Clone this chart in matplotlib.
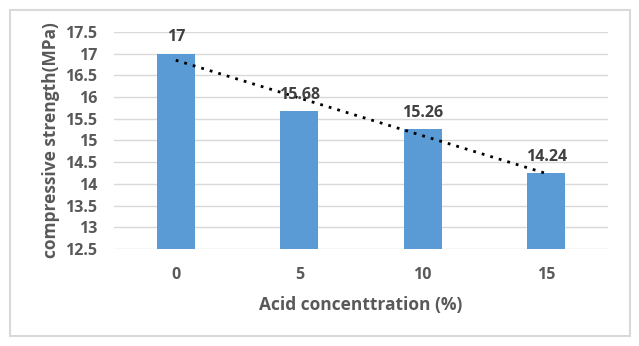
import matplotlib
matplotlib.use("Agg")
import matplotlib.pyplot as plt
import numpy as np
from matplotlib.patches import Rectangle

categories = ["0", "5", "10", "15"]
values = [17, 15.68, 15.26, 14.24]
value_labels = ["17", "15.68", "15.26", "14.24"]
yticks = [12.5, 13, 13.5, 14, 14.5, 15, 15.5, 16, 16.5, 17, 17.5]

plt.rcParams['font.family'] = ['Open Sans', 'DejaVu Sans']
W, H = 639, 346
fig = plt.figure(figsize=(W/100, H/100), dpi=100)
ax = fig.add_axes([114/W, 1-249/H, (608-114)/W, (249-32)/H])

x = np.arange(len(categories))
ax.bar(x, [v - 12.5 for v in values], bottom=12.5, width=0.31, color='#5b9bd5', zorder=3)

# linear trendline
coef = np.polyfit(x, values, 1)
ax.plot(x, np.polyval(coef, x), linestyle=(0, (1, 2.2)), color='black', lw=2.0, zorder=4)

for xi, v, lab in zip(x, values, value_labels):
    ax.annotate(lab, (xi, v), xytext=(0, 6), textcoords='offset points',
                ha='center', va='bottom', fontsize=11.5, fontweight='bold', color='#404040', zorder=5)

ax.set_xlim(-0.5, 3.5)
ax.set_ylim(12.5, 17.5)
ax.set_yticks(yticks)
ax.set_yticklabels([f"{t:g}" for t in yticks])
ax.set_xticks(x)
ax.set_xticklabels(categories)
ax.yaxis.grid(True, color='#d9d9d9', lw=1, zorder=0)
for s in ax.spines.values():
    s.set_visible(False)
ax.tick_params(axis='both', length=0, labelsize=11.5, labelcolor='#595959')
ax.tick_params(axis='x', pad=13)
ax.tick_params(axis='y', pad=12)
for lab in ax.get_xticklabels() + ax.get_yticklabels():
    lab.set_fontweight('bold')
ax.set_xlabel("Acid concenttration (%)", fontsize=12.5, fontweight='bold', color='#595959', labelpad=9)
ax.set_ylabel("compressive strength(MPa)", fontsize=12.5, fontweight='bold', color='#595959', labelpad=4)

fig.patches.append(Rectangle((10/W, 1-336/H), 620/W, 326/H, transform=fig.transFigure,
                             fill=False, edgecolor='#d9d9d9', lw=1.5))
fig.savefig("out.png", dpi=100)
